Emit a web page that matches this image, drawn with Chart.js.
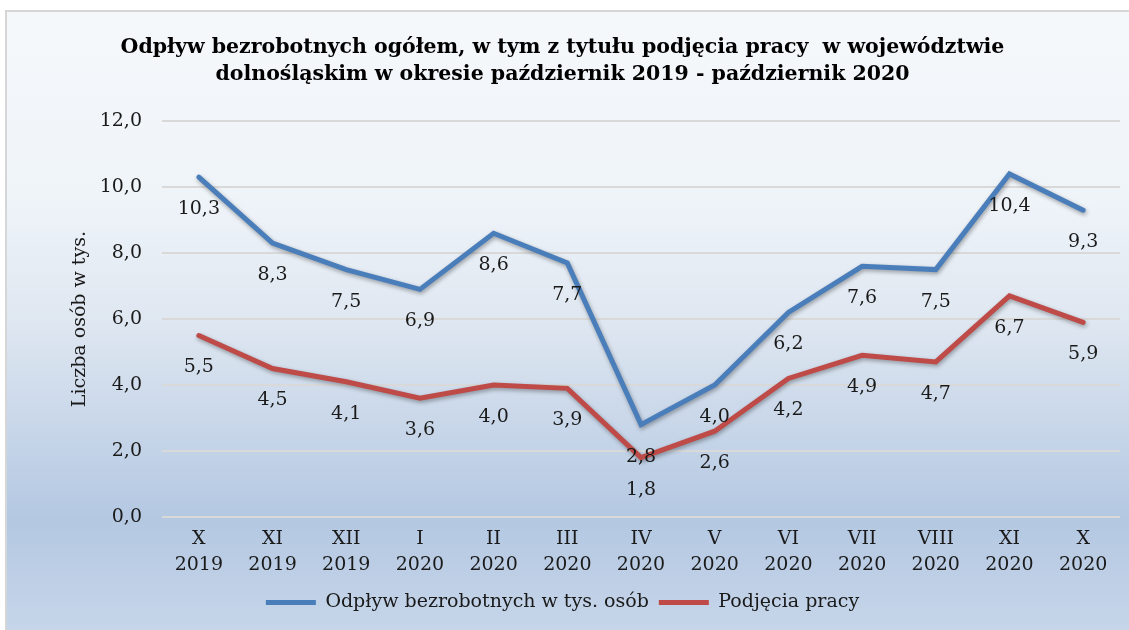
<!DOCTYPE html>
<html>
<head>
<meta charset="utf-8">
<script src="https://cdn.jsdelivr.net/npm/chart.js@4.4.1/dist/chart.umd.min.js"></script>
<style>
html,body{margin:0;padding:0;background:#fff;}
#wrap{width:1129px;height:630px;position:relative;}
</style>
</head>
<body>
<div id="wrap"><canvas id="c" width="1129" height="630"></canvas></div>
<script>
const categories = [['X','2019'],['XI','2019'],['XII','2019'],['I','2020'],['II','2020'],['III','2020'],['IV','2020'],['V','2020'],['VI','2020'],['VII','2020'],['VIII','2020'],['XI','2020'],['X','2020']];
const odplyw = [10.3, 8.3, 7.5, 6.9, 8.6, 7.7, 2.8, 4.0, 6.2, 7.6, 7.5, 10.4, 9.3];
const podjecia = [5.5, 4.5, 4.1, 3.6, 4.0, 3.9, 1.8, 2.6, 4.2, 4.9, 4.7, 6.7, 5.9];
const seriesNames = ['Odpływ bezrobotnych w tys. osób', 'Podjęcia pracy'];
const titleLines = ['Odpływ bezrobotnych ogółem, w tym z tytułu podjęcia pracy  w województwie', 'dolnośląskim w okresie październik 2019 - październik 2020'];
const yTitle = 'Liczba osób w tys.';

const fmt = v => v.toFixed(1).replace('.', ',');
const SERIF = "'DejaVu Serif', 'Liberation Serif', serif";

const bgPlugin = {
  id: 'bg',
  beforeDraw(chart) {
    const ctx = chart.ctx;
    ctx.save();
    const g = ctx.createLinearGradient(0, 10, 0, 630);
    g.addColorStop(0, '#f5f8fb');
    g.addColorStop(0.3, '#eff4f9');
    g.addColorStop(0.5, '#dfe7f1');
    g.addColorStop(0.82, '#b4c8e2');
    g.addColorStop(1, '#c6d5e9');
    ctx.fillStyle = g;
    ctx.fillRect(5, 10, 1124, 620);
    ctx.strokeStyle = '#d6d6d6';
    ctx.lineWidth = 2;
    ctx.beginPath();
    ctx.moveTo(6, 630);
    ctx.lineTo(6, 11);
    ctx.lineTo(1129, 11);
    ctx.stroke();
    ctx.restore();
  }
};

const shadowPlugin = {
  id: 'lineShadow',
  beforeDatasetDraw(chart) {
    const ctx = chart.ctx;
    ctx.save();
    ctx.shadowColor = 'rgba(0,0,0,0.35)';
    ctx.shadowBlur = 4;
    ctx.shadowOffsetX = 1;
    ctx.shadowOffsetY = 2;
  },
  afterDatasetDraw(chart) {
    chart.ctx.restore();
  }
};

const labelPlugin = {
  id: 'valueLabels',
  afterDatasetsDraw(chart) {
    const ctx = chart.ctx;
    ctx.save();
    ctx.font = "19px " + SERIF;
    ctx.fillStyle = '#1a1a1a';
    ctx.textAlign = 'center';
    ctx.textBaseline = 'middle';
    chart.data.datasets.forEach((ds, i) => {
      const meta = chart.getDatasetMeta(i);
      meta.data.forEach((pt, j) => {
        ctx.fillText(fmt(ds.data[j]), pt.x, pt.y + 32);
      });
    });
    ctx.restore();
  }
};

new Chart(document.getElementById('c'), {
  type: 'line',
  data: {
    labels: categories,
    datasets: [
      {label: seriesNames[0], data: odplyw, borderColor: '#4a7ebb', backgroundColor: '#4a7ebb', borderWidth: 5, pointRadius: 0, pointHoverRadius: 0, tension: 0, borderJoinStyle: 'miter', borderCapStyle: 'round'},
      {label: seriesNames[1], data: podjecia, borderColor: '#be4b48', backgroundColor: '#be4b48', borderWidth: 5, pointRadius: 0, pointHoverRadius: 0, tension: 0, borderJoinStyle: 'miter', borderCapStyle: 'round'}
    ]
  },
  options: {
    responsive: false,
    animation: false,
    devicePixelRatio: 1,
    layout: {padding: {left: 5, top: 10, right: 9, bottom: 8}},
    plugins: {
      title: {
        display: true,
        text: titleLines,
        color: '#000',
        font: {family: SERIF, size: 20.5, weight: 'bold', lineHeight: 1.32},
        padding: {top: 24, bottom: 33}
      },
      legend: {
        position: 'bottom',
        labels: {
          usePointStyle: true,
          pointStyle: 'line',
          pointStyleWidth: 50,
          color: '#1a1a1a',
          font: {family: SERIF, size: 19},
          padding: 10
        }
      },
      tooltip: {enabled: false}
    },
    scales: {
      x: {
        offset: true,
        afterFit(scale) { scale.height = 66; },
        grid: {display: false, drawTicks: false},
        border: {display: false},
        ticks: {color: '#1a1a1a', font: {family: SERIF, size: 19, lineHeight: 1.37}, padding: 9, maxRotation: 0, autoSkip: false}
      },
      y: {
        min: 0, max: 12,
        afterFit(scale) { scale.width = 157; },
        grid: {color: '#d9d9d9', lineWidth: 2, drawTicks: false},
        border: {display: false},
        ticks: {stepSize: 2, color: '#1a1a1a', padding: 20, font: {family: SERIF, size: 19}, callback: v => fmt(v)},
        title: {display: true, text: yTitle, color: '#1a1a1a', font: {family: SERIF, size: 19}, padding: 64}
      }
    }
  },
  plugins: [bgPlugin, shadowPlugin, labelPlugin]
});
</script>
</body>
</html>
